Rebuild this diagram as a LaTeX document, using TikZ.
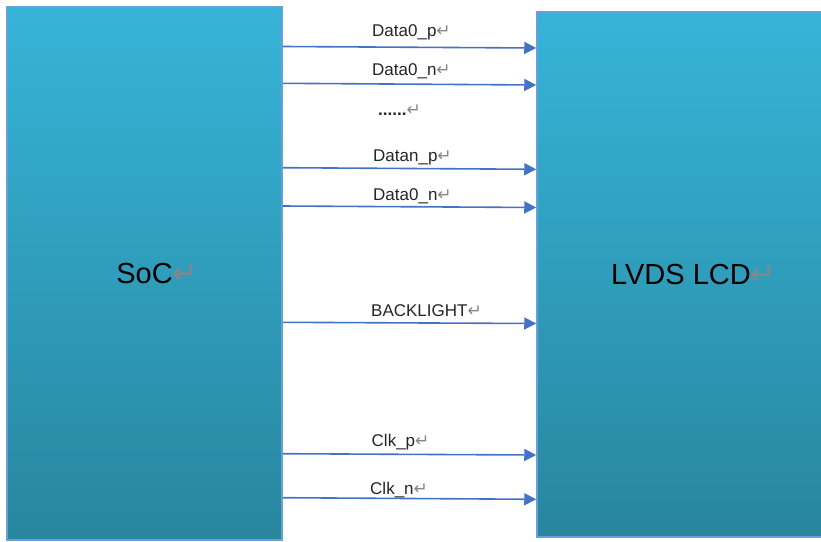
\documentclass[tikz,border=0pt]{standalone}
\usepackage{fontspec}
\setmainfont{Liberation Sans}
\newfontfamily\dejavu{DejaVu Sans}
\usetikzlibrary{arrows.meta}
\definecolor{topblue}{RGB}{54,180,216}
\definecolor{botblue}{RGB}{40,134,158}
\definecolor{edgeblue}{RGB}{104,160,220}
\definecolor{arrowblue}{RGB}{68,114,196}
\definecolor{retgray}{RGB}{135,135,135}
\newcommand{\retmark}[1]{{\color{retgray}\dejavu\fontsize{#1}{#1}\selectfont ↵}}
\tikzset{
  blockbox/.style={draw=edgeblue, line width=1.5pt, top color=topblue, bottom color=botblue,
    inner sep=0pt, font=\fontsize{29}{34}\selectfont, text=black},
  sig/.style={draw=arrowblue, line width=1.6pt, -{Triangle[length=12pt,width=12pt]}},
  siglabel/.style={anchor=base west, inner sep=0pt, font=\fontsize{17}{20}\selectfont, text=black!85}
}
\begin{document}
\begin{tikzpicture}[x=1pt,y=-1pt]
\useasboundingbox (0,0) rectangle (821,541);
\fill[white] (0,0) rectangle (821,541);
\begin{scope}
\clip (0,0) rectangle (821,541);
\node[blockbox, minimum width=275pt, minimum height=533pt] (soc) at (144.5,273.5) {SoC\rlap{\retmark{30}}};
\node[blockbox, minimum width=288pt, minimum height=525pt] (lcd) at (681,274.5) {LVDS LCD\rlap{\retmark{30}}};
\end{scope}
% connectors
\draw[sig] (soc.east |- 0,46.5) -- (lcd.west |- 0,48);
\draw[sig] (soc.east |- 0,83.3) -- (lcd.west |- 0,85);
\draw[sig] (soc.east |- 0,167.7) -- (lcd.west |- 0,169.3);
\draw[sig] (soc.east |- 0,206) -- (lcd.west |- 0,207.5);
\draw[sig] (soc.east |- 0,322.3) -- (lcd.west |- 0,323.5);
\draw[sig] (soc.east |- 0,453.7) -- (lcd.west |- 0,455);
\draw[sig] (soc.east |- 0,497.7) -- (lcd.west |- 0,499.3);
% labels
\node[siglabel] (l1) at (372,36) {Data0\_p\retmark{17}};
\node[siglabel] (l2) at (372,75) {Data0\_n\retmark{17}};
\node[siglabel] (l3) at (378,115) {\textbf{......}\retmark{17}};
\node[siglabel] (l4) at (373,161.7) {Datan\_p\retmark{17}};
\node[siglabel] (l5) at (373,200) {Data0\_n\retmark{17}};
\node[siglabel] (l6) at (371,316.7) {BACKLIGHT\retmark{17}};
\node[siglabel] (l7) at (371.5,446) {Clk\_p\retmark{17}};
\node[siglabel] (l8) at (370,494) {Clk\_n\retmark{17}};
\end{tikzpicture}
\end{document}
